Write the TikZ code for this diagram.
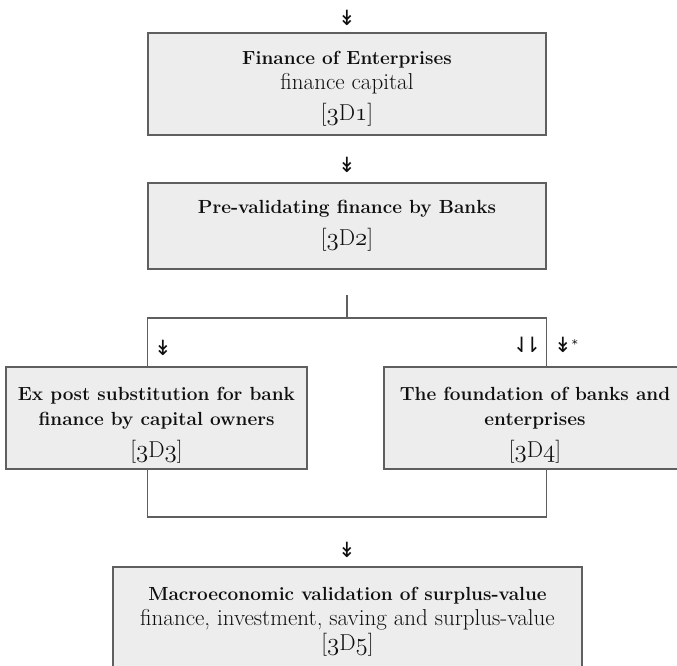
\documentclass[tikz,border=0pt]{standalone}
\usepackage{fontspec}
\usepackage{tikz}
\usepackage{xcolor}
\usetikzlibrary{positioning, calc}
\newfontfamily\arrowfont{DejaVu Sans}
\definecolor{boxfill}{RGB}{237,237,237}
\definecolor{boxline}{RGB}{95,95,95}
\definecolor{ink}{RGB}{15,15,15}
\newcommand{\headtxt}{\fontsize{19}{25}\selectfont\bfseries}
\newcommand{\plaintxt}{\fontsize{23}{25}\selectfont\mdseries}
\newcommand{\osn}[1]{{\usefont{OML}{cmm}{m}{it}#1}}
\newcommand{\boxref}[1]{\plaintxt[\osn{3}D\osn{#1}]}
\newcommand{\lift}[1]{\rule{0pt}{#1}}

\begin{document}
\begin{tikzpicture}[x=1pt, y=-1pt,
    box/.style={draw=boxline, line width=1.3pt, fill=boxfill, align=center, inner sep=0pt, text=ink, font=\fontsize{19}{25}\selectfont},
    wire/.style={draw=boxline, line width=1.2pt},
    glyph/.style={font=\arrowfont\fontsize{21}{21}\selectfont, text=ink, inner sep=0pt}]
    \clip (0,0) rectangle (677,666);

    % Entree
    \node[glyph] (a0) at (347,18) {↡};

    % 3D1 : Finance of Enterprises
    \node[box, minimum width=398pt, minimum height=102pt] (fin) at (347,84)
        {\lift{23pt}\headtxt Finance of Enterprises\\ \plaintxt finance capital\\[6pt] \boxref{1}};

    \node[glyph] (a1) at (347,165) {↡};

    % 3D2 : Pre-validating finance
    \node[box, minimum width=398pt, minimum height=86pt] (prev) at (347,226)
        {\headtxt Pre-validating finance by Banks\\[7pt] \boxref{2}};

    % Embranchement
    \coordinate (split) at (347,295);
    \coordinate (fork) at (347,318);
    \coordinate (join) at (347,517);

    % 3D3 : Ex post substitution
    \node[box, minimum width=301pt, minimum height=102pt] (subst) at (156.5,418)
        {\lift{28pt}\headtxt Ex post substitution for bank\\ \headtxt finance by capital owners\\[7pt] \boxref{3}};
    \node[glyph] (a3) at (163,348) {↡};

    % 3D4 : Foundation of banks and enterprises
    \node[box, minimum width=302pt, minimum height=102pt] (found) at (535,418)
        {\lift{28pt}\headtxt The foundation of banks and\\ \headtxt enterprises\\[7pt] \boxref{4}};
    \node[glyph] (a4) at (527,345) {⇃\kern-7pt⇂};
    \node[glyph, anchor=west] (a4b) at (554,345) {↡\raisebox{4pt}{\fontsize{12}{12}\selectfont*}};

    % Liaisons
    \draw[wire] (prev.south |- split) -- (fork);
    \draw[wire] (subst.north -| fin.west) |- (fork) -| (found.north -| fin.east);
    \draw[wire] (subst.south -| fin.west) |- (join) -| (found.south -| fin.east);

    \node[glyph] (a5) at (347,550) {↡};

    % 3D5 : Macroeconomic validation
    \node[box, minimum width=469pt, minimum height=101pt] (macro) at (347.5,617.5)
        {\lift{22pt}\headtxt Macroeconomic validation of surplus-value\\ \plaintxt finance, investment, saving and surplus-value\\ \boxref{5}};
\end{tikzpicture}
\end{document}
